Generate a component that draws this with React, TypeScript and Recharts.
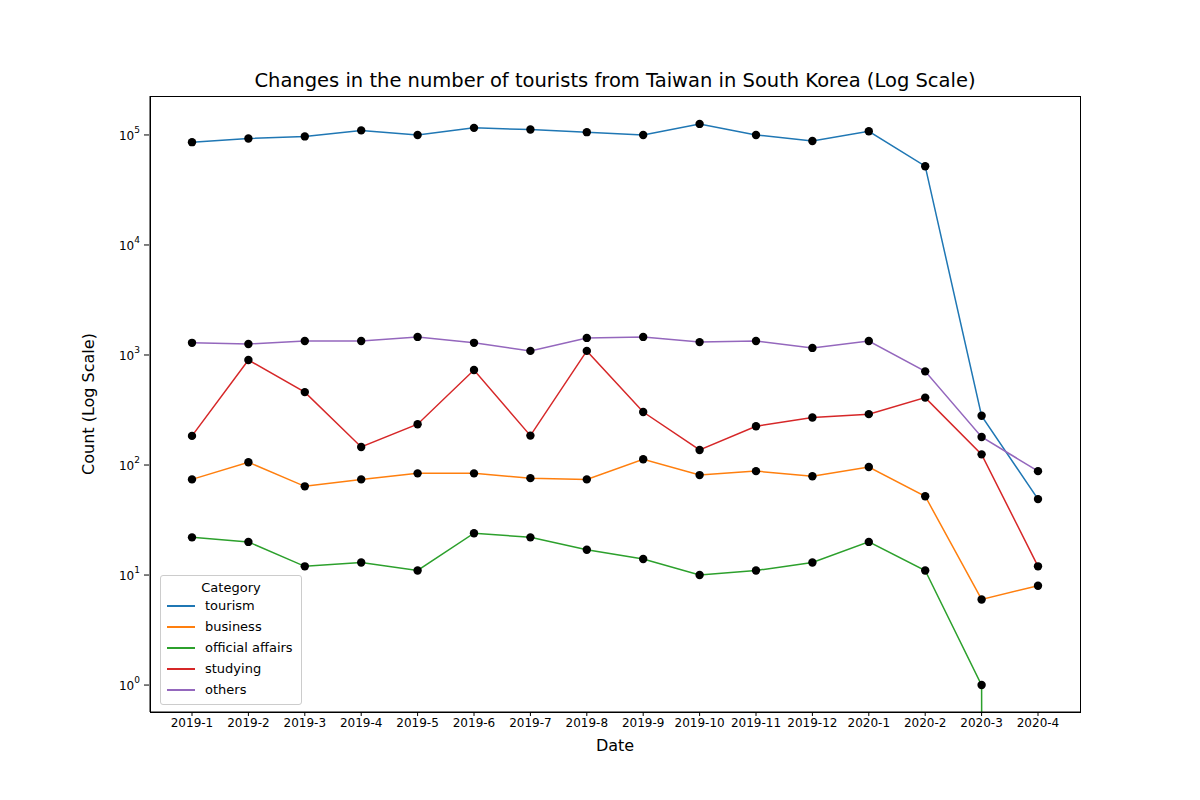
import React from "react";
import { LineChart, Line, XAxis, YAxis, Label } from "recharts";

const dates = ["2019-1","2019-2","2019-3","2019-4","2019-5","2019-6","2019-7","2019-8","2019-9","2019-10","2019-11","2019-12","2020-1","2020-2","2020-3","2020-4"];
const tourism = [86000,93000,97000,110000,100000,116000,112000,106000,100000,126000,100000,88000,108000,52000,280,49];
const business = [74,106,64,74,84,84,76,74,113,81,88,79,96,52,6,8];
const officialAffairs = [22,20,12,13,11,24,22,17,14,10,11,13,20,11,1,0];
const studying = [184,900,460,146,235,730,185,1090,303,137,225,270,290,410,125,12];
const others = [1290,1260,1340,1340,1460,1290,1090,1430,1460,1310,1340,1160,1340,710,180,88];
const yTicks = [1,10,100,1000,10000,100000];

const series = [
  { key: "tourism", color: "#1f77b4", values: tourism },
  { key: "business", color: "#ff7f0e", values: business },
  { key: "official affairs", color: "#2ca02c", values: officialAffairs },
  { key: "studying", color: "#d62728", values: studying },
  { key: "others", color: "#9467bd", values: others },
];

// zero can't sit on a log axis; push it far below the visible range so the line drops straight off the bottom
const data = dates.map((d, i) => {
  const row: any = { date: d };
  series.forEach((s) => { row[s.key] = s.values[i] > 0 ? s.values[i] : 1e-300; });
  return row;
});

const font = "DejaVu Sans, sans-serif";

const YTick = (props: any) => {
  const { x, y, payload } = props;
  const exp = Math.round(Math.log10(payload.value));
  return (
    <g>
      <line x1={x + 2} x2={x + 7} y1={y} y2={y} stroke="#000" />
      <text x={x - 2} y={y + 5} textAnchor="end" fontSize={12} fontFamily={font} fill="#000">
        10<tspan dy={-7} fontSize={9}>{exp}</tspan>
      </text>
    </g>
  );
};

export default function App() {
  return (
    <div style={{ position: "relative", width: 1200, height: 800, margin: -8, background: "#fff", fontFamily: font }}>
      <div style={{ position: "absolute", top: 69, width: 1230, textAlign: "center", fontSize: 19.5 }}>
        Changes in the number of tourists from Taiwan in South Korea (Log Scale)
      </div>
      <LineChart width={1200} height={800} data={data} margin={{ top: 96, left: 90, right: 120, bottom: 58 }}>
        <XAxis dataKey="date" height={30} padding={{ left: 42, right: 42 }} tick={{ fontSize: 12, fill: "#000", fontFamily: font }} stroke="#000" tickSize={4} interval={0}>
          <Label value="Date" position="bottom" offset={-2} style={{ fontSize: 16, fill: "#000", fontFamily: font }} />
        </XAxis>
        <YAxis scale="log" domain={[0.569, 226000]} allowDataOverflow ticks={yTicks} width={60} stroke="#000" tickLine={false} tick={<YTick />}>
          <Label value="Count (Log Scale)" angle={-90} position="insideLeft" offset={-2} style={{ fontSize: 16, fill: "#000", fontFamily: font, textAnchor: "middle" }} />
        </YAxis>
        {series.map((s) => (
          <Line key={s.key} dataKey={s.key} stroke={s.color} strokeWidth={1.5} isAnimationActive={false}
            dot={{ r: 4.2, fill: "#000", stroke: "none" }} activeDot={false} type="linear" />
        ))}
      </LineChart>
      <div style={{ position: "absolute", left: 150, top: 96, width: 931, height: 617, border: "1px solid #000", boxSizing: "border-box", pointerEvents: "none" }} />
      <div style={{ position: "absolute", left: 160, top: 575, width: 142, height: 130, border: "1px solid #ccc", borderRadius: 3, background: "#fff", fontSize: 13, boxSizing: "border-box" }}>
        <div style={{ textAlign: "center", marginTop: 4 }}>Category</div>
        {series.map((s) => (
          <div key={s.key} style={{ display: "flex", alignItems: "center", height: 21 }}>
            <span style={{ display: "inline-block", width: 28, height: 2, background: s.color, marginLeft: 6, marginRight: 10 }} />
            {s.key}
          </div>
        ))}
      </div>
    </div>
  );
}
